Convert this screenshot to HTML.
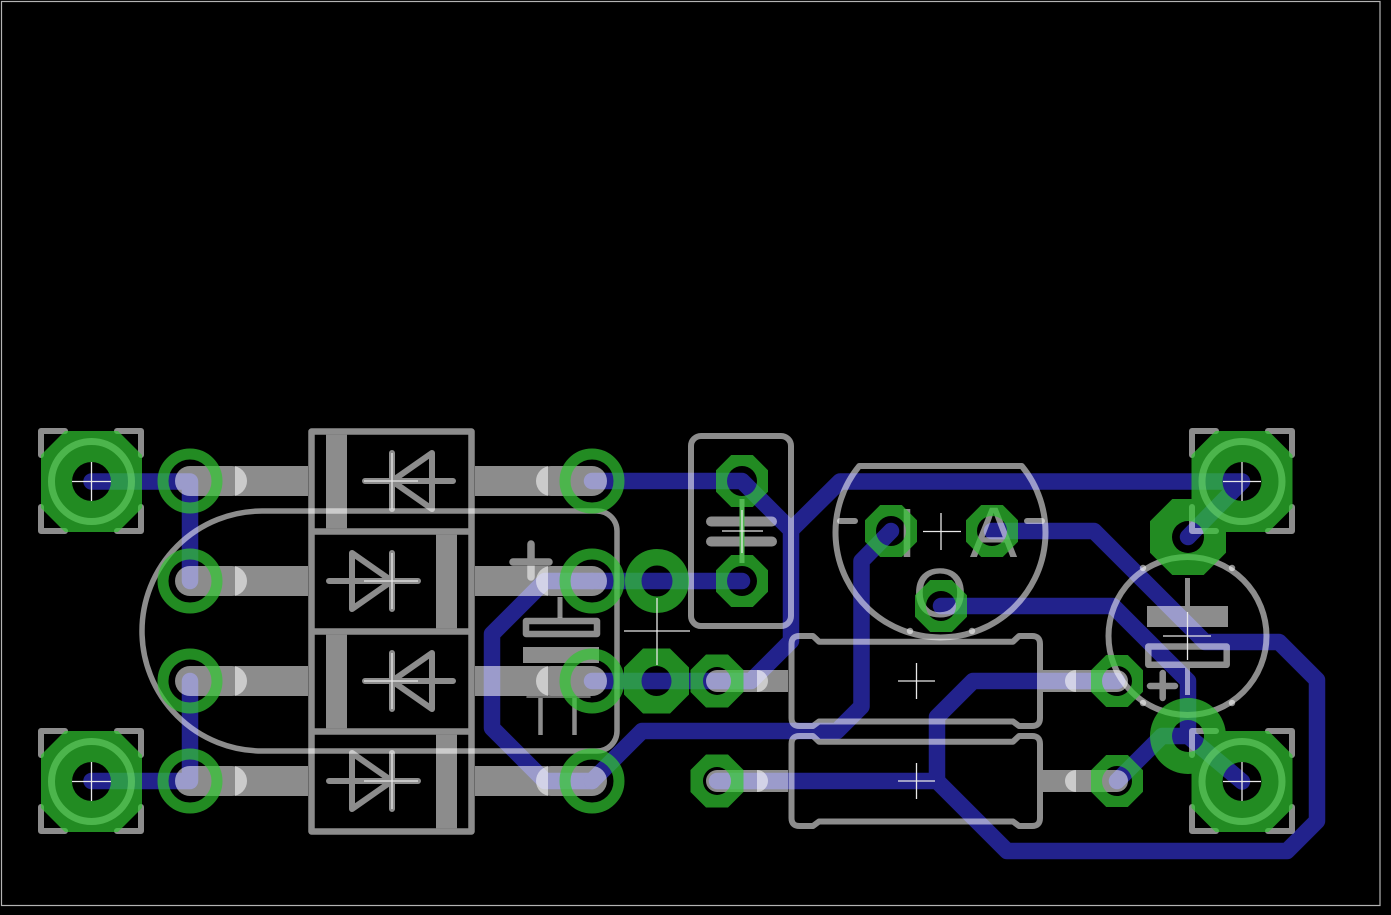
<!DOCTYPE html>
<html><head><meta charset="utf-8"><style>
html,body{margin:0;padding:0;background:#000;}
svg{display:block}
.gs{fill:none;stroke:#fff;stroke-opacity:.55;stroke-linecap:round;stroke-linejoin:round}
.gf{fill:#fff;fill-opacity:.55}
.tr{fill:none;stroke:#22228c;stroke-width:16.5;stroke-linecap:round;stroke-linejoin:round}
.ch{stroke:#e8e8e8;stroke-width:1.3;fill:none}
</style></head><body>
<svg width="1391" height="915" viewBox="0 0 1391 915" xmlns="http://www.w3.org/2000/svg">
<defs>
<path id="bigpad" fill-rule="evenodd" d="M-26.5,-50.5 H26.5 L50.5,-26.5 V26.5 L26.5,50.5 H-26.5 L-50.5,26.5 V-26.5 Z M-19.5,0 A19.5,19.5 0 1 0 19.5,0 A19.5,19.5 0 1 0 -19.5,0 Z"/>
<path id="oct52" fill-rule="evenodd" d="M-10.8,-26 H10.8 L26,-10.8 V10.8 L10.8,26 H-10.8 L-26,10.8 V-10.8 Z M-15,0 A15,15 0 1 0 15,0 A15,15 0 1 0 -15,0 Z"/>
<path id="oct53" fill-rule="evenodd" d="M-11,-26.5 H11 L26.5,-11 V11 L11,26.5 H-11 L-26.5,11 V-11 Z M-14,0 A14,14 0 1 0 14,0 A14,14 0 1 0 -14,0 Z"/>
<path id="oct65" fill-rule="evenodd" d="M-13.5,-32.5 H13.5 L32.5,-13.5 V13.5 L13.5,32.5 H-13.5 L-32.5,13.5 V-13.5 Z M-15,0 A15,15 0 1 0 15,0 A15,15 0 1 0 -15,0 Z"/>
<path id="oct76" fill-rule="evenodd" d="M-15.7,-38 H15.7 L38,-15.7 V15.7 L15.7,38 H-15.7 L-38,15.7 V-15.7 Z M-16,0 A16,16 0 1 0 16,0 A16,16 0 1 0 -16,0 Z"/>
<path id="circ76" fill-rule="evenodd" d="M-38,0 A38,38 0 1 0 38,0 A38,38 0 1 0 -38,0 Z M-16,0 A16,16 0 1 0 16,0 A16,16 0 1 0 -16,0 Z"/>
</defs>
<rect width="1391" height="915" fill="#000"/>
<rect x="1.5" y="1.5" width="1378.5" height="904" fill="none" stroke="#b4b4b4" stroke-width="1.2"/>

<!-- bottom layer traces -->
<path class="tr" d="M91.5,481.5 H190 V581"/>
<path class="tr" d="M190,681 V781 H91.5"/>
<path class="tr" d="M592,481 H742 L791,530 V641 L751,681 H592"/>
<path class="tr" d="M791,530 L840,481.5 H1242"/>
<path class="tr" d="M592,581 H742"/>
<path class="tr" d="M592,581 H545 L492,634 V728 L545,781 H592"/>
<path class="tr" d="M592,781 L642,731 H837 L861.5,706.5 V561 L891,531"/>
<path class="tr" d="M717,781 H937 L1007,851 H1287 L1317,821 V680 L1279,642 H1205 L1094,531 H992"/>
<path class="tr" d="M937,781 V717 L973,681 H1117"/>
<path class="tr" d="M941,606 H1113 L1188,681 V736"/>
<path class="tr" d="M1188,537 L1242,481.5"/>
<path class="tr" d="M1188,736 L1242,781.5"/>
<path class="tr" d="M1117,781 L1162,736 H1188"/>

<!-- silkscreen / grey -->
<path class="gs" stroke-width="6" d="M41,455 V431 H65 M117,431 H141 V455 M141,507 V531 H117 M65,531 H41 V507"/>
<path class="gs" stroke-width="6" d="M41,755 V731 H65 M117,731 H141 V755 M141,807 V831 H117 M65,831 H41 V807"/>
<path class="gs" stroke-width="6" d="M1192,455 V431 H1216 M1268,431 H1292 V455 M1292,507 V531 H1268 M1216,531 H1192 V507"/>
<path class="gs" stroke-width="6" d="M1192,755 V731 H1216 M1268,731 H1292 V755 M1292,807 V831 H1268 M1216,831 H1192 V807"/>

<circle class="gs" stroke-width="7" cx="91.5" cy="481.5" r="40"/>
<circle class="gs" stroke-width="7" cx="91.5" cy="781.5" r="40"/>
<circle class="gs" stroke-width="7" cx="1242" cy="481.5" r="40"/>
<circle class="gs" stroke-width="7" cx="1242" cy="781.5" r="40"/>

<!-- diode leads -->
<path class="gs" stroke-width="30" d="M190,481 H232"/><rect class="gf" x="235" y="466" width="73" height="30"/>
<path class="gs" stroke-width="30" d="M190,581 H232"/><rect class="gf" x="235" y="566" width="73" height="30"/>
<path class="gs" stroke-width="30" d="M190,681 H232"/><rect class="gf" x="235" y="666" width="73" height="30"/>
<path class="gs" stroke-width="30" d="M190,781 H232"/><rect class="gf" x="235" y="766" width="73" height="30"/>
<rect class="gf" x="475" y="466" width="73" height="30"/><path class="gs" stroke-width="30" d="M551,481 H592"/>
<rect class="gf" x="475" y="566" width="73" height="30"/><path class="gs" stroke-width="30" d="M551,581 H592"/>
<rect class="gf" x="475" y="666" width="73" height="30"/><path class="gs" stroke-width="30" d="M551,681 H592"/>
<rect class="gf" x="475" y="766" width="73" height="30"/><path class="gs" stroke-width="30" d="M551,781 H592"/>

<!-- diode boxes -->
<path class="gs" stroke-width="6.5" d="M311.5,431.5 H471.5 V831.5 H311.5 Z M311.5,531.5 H471.5 M311.5,631.5 H471.5 M311.5,731.5 H471.5"/>
<rect class="gf" x="326" y="434.75" width="21" height="93.5"/>
<rect class="gf" x="436" y="534.75" width="21" height="93.5"/>
<rect class="gf" x="326" y="634.75" width="21" height="93.5"/>
<rect class="gf" x="436" y="734.75" width="21" height="93.5"/>
<path class="gs" stroke-width="6" d="M365,481 H453 M392,453 V509 M432,453 L392,481 L432,509 Z"/>
<path class="gs" stroke-width="6" d="M329,581 H418 M392,553 V609 M352,553 L392,581 L352,609 Z"/>
<path class="gs" stroke-width="6" d="M365,681 H453 M392,653 V709 M432,653 L392,681 L432,709 Z"/>
<path class="gs" stroke-width="6" d="M329,781 H418 M392,753 V809 M352,753 L392,781 L352,809 Z"/>

<!-- stadium outline -->
<path class="gs" stroke-width="5.5" d="M262,511 H597 A20,20 0 0 1 617,531 V731 A20,20 0 0 1 597,751 H262 A120,120 0 0 1 262,511 Z"/>

<!-- C1 symbol -->
<path class="gs" stroke-width="7.5" d="M513,562 H549 M531,544 V577"/>
<path class="gs" stroke-width="5" style="stroke-linecap:butt" d="M560,597 V618"/>
<rect class="gs" stroke-width="6.5" x="526" y="621" width="71" height="13"/>
<rect class="gf" x="523" y="647" width="76" height="16"/>
<path class="gs" stroke-width="4.5" style="stroke-linecap:butt" d="M540.5,698 V735 M574.5,698 V735"/>
<path class="gs" stroke-width="1.5" d="M527,697 H590"/>

<!-- cap box -->
<rect class="gs" stroke-width="6" x="691" y="436" width="100" height="190" rx="10" ry="10"/>
<path class="gs" stroke-width="10" d="M711,521.5 H772 M711,541.5 H772"/>

<!-- transistor -->
<path class="gs" stroke-width="6" d="M859.2,466 A105,105 0 1 0 1021.8,466 Z"/>
<path class="gs" stroke-width="6" d="M840,521 H855 M1027,521 H1042"/>
<circle class="gf" cx="910" cy="631" r="3.2"/>
<circle class="gf" cx="972" cy="631" r="3.2"/>
<text class="gf" x="907" y="557" font-family="Liberation Sans, sans-serif" font-size="70" text-anchor="middle">I</text>
<text class="gf" x="993.5" y="557" font-family="Liberation Sans, sans-serif" font-size="71" text-anchor="middle">A</text>
<text class="gf" x="940" y="617" font-family="Liberation Sans, sans-serif" font-size="70" text-anchor="middle">O</text>

<!-- resistors -->
<path class="gs" stroke-width="6" d="M799.5,636 H813 L819,641.7 H1013 L1019,636 H1032 Q1040,636 1040,644 V718 Q1040,726 1032,726 H1019 L1013,721.5 H819 L813,726 H799.5 Q791.5,726 791.5,718 V644 Q791.5,636 799.5,636 Z"/>
<path class="gs" stroke-width="6" d="M799.5,736 H813 L819,741.7 H1013 L1019,736 H1032 Q1040,736 1040,744 V818 Q1040,826 1032,826 H1019 L1013,821.5 H819 L813,826 H799.5 Q791.5,826 791.5,818 V744 Q791.5,736 799.5,736 Z"/>
<path class="gs" stroke-width="22" d="M717,681 H757"/><rect class="gf" x="757" y="670" width="31" height="22"/>
<path class="gs" stroke-width="22" d="M717,781 H757"/><rect class="gf" x="757" y="770" width="31" height="22"/>
<rect class="gf" x="1043" y="670" width="33" height="22"/><path class="gs" stroke-width="22" d="M1076,681 H1117"/>
<rect class="gf" x="1043" y="770" width="33" height="22"/><path class="gs" stroke-width="22" d="M1076,781 H1117"/>

<!-- electrolytic right -->
<circle class="gs" stroke-width="6" cx="1187.5" cy="636" r="79"/>
<circle class="gf" cx="1143" cy="568" r="3.2"/>
<circle class="gf" cx="1232" cy="568" r="3.2"/>
<circle class="gf" cx="1143" cy="703" r="3.2"/>
<circle class="gf" cx="1232" cy="703" r="3.2"/>
<rect class="gf" x="1147" y="606" width="81" height="21"/>
<rect class="gs" stroke-width="6.5" x="1148.3" y="646.5" width="78.4" height="18.3"/>
<path class="gs" stroke-width="5" style="stroke-linecap:butt" d="M1187.5,578 V606 M1187.5,668 V695"/>
<path class="gs" stroke-width="6.5" d="M1150,686 H1175 M1162.7,673 V698"/>

<!-- copper pads -->
<g opacity="0.7" fill="rgb(49,199,49)">
<use href="#bigpad" transform="translate(91.5,481.5)"/>
<use href="#bigpad" transform="translate(91.5,781.5)"/>
<use href="#bigpad" transform="translate(1242,481.5)"/>
<use href="#bigpad" transform="translate(1242,781.5)"/>
<g fill="none" stroke="rgb(49,199,49)" stroke-width="11">
<circle cx="190" cy="481" r="27"/><circle cx="190" cy="581" r="27"/>
<circle cx="190" cy="681" r="27"/><circle cx="190" cy="781" r="27"/>
<circle cx="592" cy="481" r="27"/><circle cx="592" cy="581" r="27"/>
<circle cx="592" cy="681" r="27"/><circle cx="592" cy="781" r="27"/>
<circle cx="657" cy="581" r="23.75" stroke-width="16.5"/>
</g>
<use href="#oct52" transform="translate(742,481)"/>
<use href="#oct52" transform="translate(742,581)"/>
<use href="#oct52" transform="translate(891,531)"/>
<use href="#oct52" transform="translate(992,531)"/>
<use href="#oct52" transform="translate(941,606)"/>
<use href="#oct52" transform="translate(1117,681)"/>
<use href="#oct52" transform="translate(1117,781)"/>
<use href="#oct65" transform="translate(656.5,681)"/>
<use href="#oct53" transform="translate(717,681)"/>
<use href="#oct53" transform="translate(717,781)"/>
<use href="#oct76" transform="translate(1188,537)"/>
<use href="#circ76" transform="translate(1188,736)"/>
</g>
<path d="M742,499 V563" stroke="#52b852" stroke-width="5" fill="none"/>

<!-- crosshairs -->
<path class="ch" d="M72,481.5 H111 M91.5,462 V501 M72,781.5 H111 M91.5,762 V801 M1223,481.5 H1261 M1242,462 V501 M1223,781.5 H1261 M1242,762 V801
M364,481 H418 M392,453 V509 M364,581 H418 M392,553 V609 M364,681 H418 M392,653 V709 M364,781 H418 M392,753 V809
M624,631 H690 M657,598 V665 M722,531 H763 M742,510 V553 M923,531.5 H961 M941,513 V550
M898,681 H935 M916.5,663 V699 M898,781 H935 M916.5,763 V799 M1163,636 H1211 M1187.5,612 V660"/>
</svg>
</body></html>
